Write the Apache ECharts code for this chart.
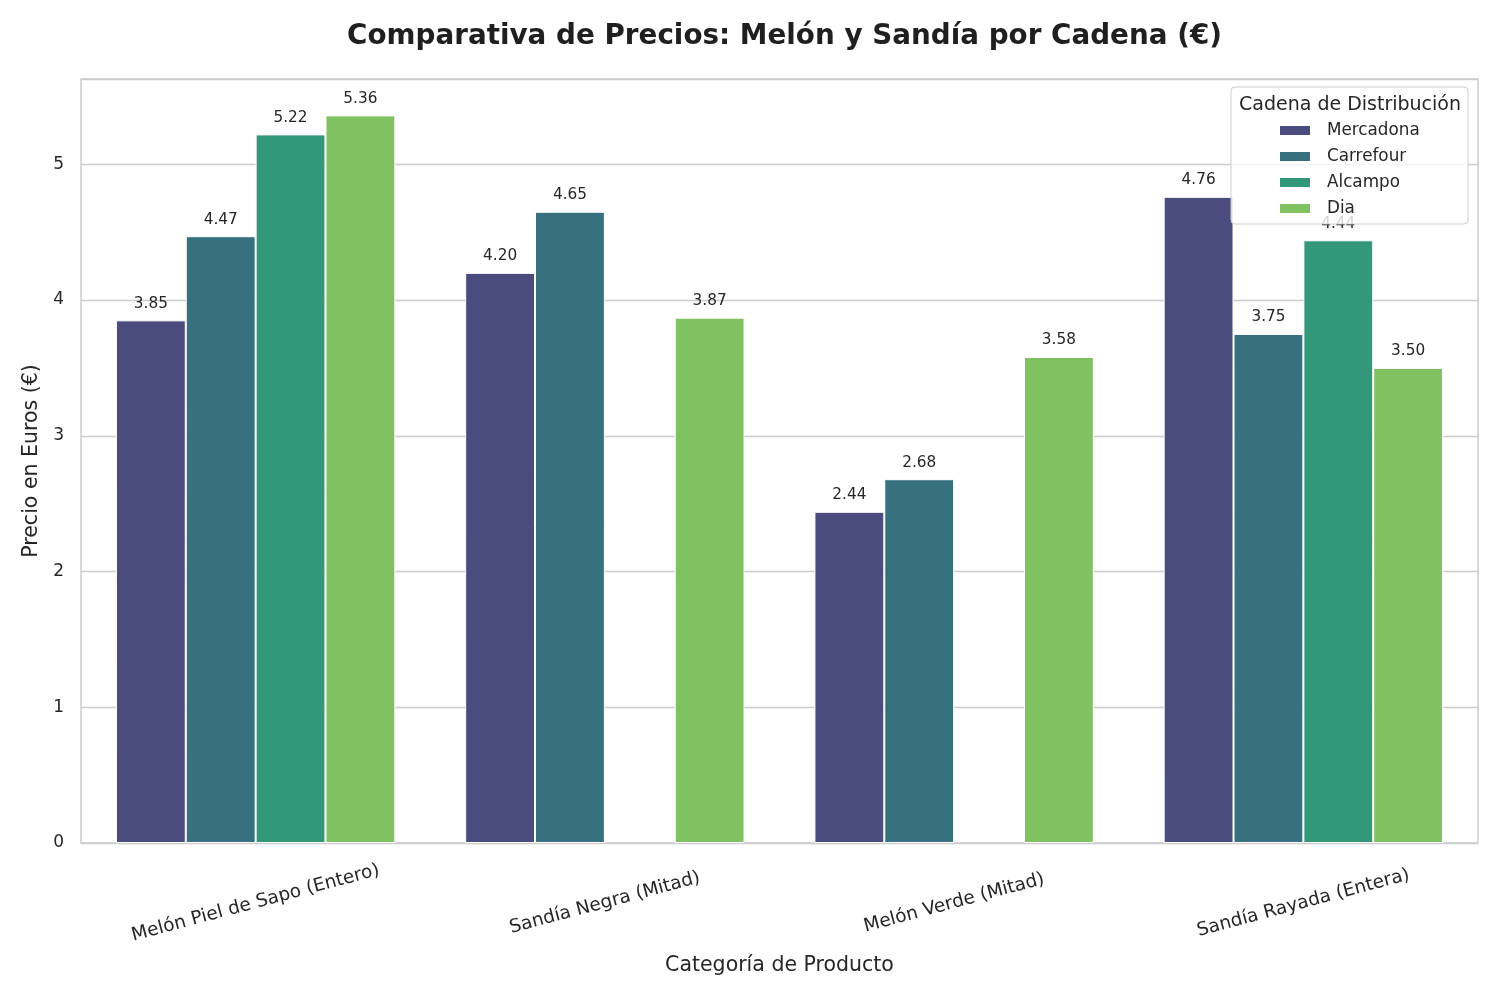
<!DOCTYPE html>
<html>
<head>
<meta charset="utf-8">
<script src="https://cdn.jsdelivr.net/npm/echarts@6/dist/echarts.min.js"></script>
<style>
html,body{margin:0;padding:0;background:#fff;}
#chart{width:1500px;height:1000px;}
</style>
</head>
<body>
<div id="chart"></div>
<script>
const categories = ['Melón Piel de Sapo (Entero)', 'Sandía Negra (Mitad)', 'Melón Verde (Mitad)', 'Sandía Rayada (Entera)'];
const chains = ['Mercadona', 'Carrefour', 'Alcampo', 'Dia'];
const mercadona = [3.85, 4.20, 2.44, 4.76];
const carrefour = [4.47, 4.65, 2.68, 3.75];
const alcampo = [5.22, null, null, 4.44];
const dia = [5.36, 3.87, 3.58, 3.50];
const colors = ['#4a4c7e', '#37717f', '#33977a', '#80c161'];
const yTicks = [0, 1, 2, 3, 4, 5];

const FONT = 'DejaVu Sans';
const TXT = '#262626';
const seriesValues = [mercadona, carrefour, alcampo, dia];

const chart = echarts.init(document.getElementById('chart'), null, {renderer: 'canvas'});
const option = {
  backgroundColor: '#ffffff',
  animation: false,
  textStyle: {fontFamily: FONT},
  title: [
    {
      text: 'Comparativa de Precios: Melón y Sandía por Cadena (€)',
      left: 779.5, top: 18, textAlign: 'center',
      textStyle: {fontFamily: FONT, fontSize: 27.8, fontWeight: 'bold', color: '#1f1f1f'}
    },
    {
      text: 'Cadena de Distribución',
      left: 1234, top: 91, z: 120,
      textStyle: {fontFamily: FONT, fontSize: 19, fontWeight: 'normal', color: TXT}
    }
  ],
  graphic: [
    {
      type: 'rect', z: 100,
      shape: {x: 1231, y: 87, width: 237, height: 137, r: 4},
      style: {fill: 'rgba(255,255,255,0.8)', stroke: '#cccccc', lineWidth: 1}
    }
  ],
  legend: {
    data: chains,
    orient: 'vertical',
    left: 1278, top: 122,
    padding: 0,
    itemWidth: 32, itemHeight: 11, itemGap: 9,
    icon: 'rect',
    z: 110,
    textStyle: {fontFamily: FONT, fontSize: 16.8, color: TXT, lineHeight: 16, padding: [0, 0, 0, 11]}
  },
  grid: {
    left: 81, right: 22, top: 79, bottom: 157,
    show: true, borderColor: '#cccccc', borderWidth: 1.5, containLabel: false
  },
  xAxis: {
    type: 'category',
    data: categories,
    name: 'Categoría de Producto',
    nameLocation: 'middle',
    nameGap: 112,
    nameTextStyle: {fontFamily: FONT, fontSize: 20.5, color: TXT},
    axisLine: {show: false},
    axisTick: {show: false},
    axisLabel: {
      rotate: 15, align: 'center', verticalAlign: 'middle', margin: 60,
      fontFamily: FONT, fontSize: 18.5, color: TXT
    }
  },
  yAxis: {
    type: 'value',
    min: 0, max: 5.628, interval: 1,
    name: 'Precio en Euros (€)',
    nameLocation: 'middle',
    nameGap: 36,
    nameTextStyle: {fontFamily: FONT, fontSize: 20.5, color: TXT},
    axisLine: {show: false},
    axisTick: {show: false},
    splitLine: {show: true, lineStyle: {color: '#cccccc', width: 1.3}},
    axisLabel: {
      showMaxLabel: false,
      margin: 17, fontFamily: FONT, fontSize: 17, color: TXT,
      formatter: function (v) { return yTicks.indexOf(v) >= 0 ? String(v) : ''; }
    }
  },
  series: chains.map(function (name, i) {
    return {
      name: name,
      type: 'bar',
      data: seriesValues[i],
      barGap: '0%',
      barCategoryGap: '20%',
      itemStyle: {color: colors[i], borderColor: '#ffffff', borderWidth: 1},
      label: {
        show: true, position: 'top', distance: 9,
        fontFamily: FONT, fontSize: 15.3, color: TXT,
        formatter: function (p) { return p.value == null ? '' : Number(p.value).toFixed(2); }
      }
    };
  })
};
chart.setOption(option);
</script>
</body>
</html>
